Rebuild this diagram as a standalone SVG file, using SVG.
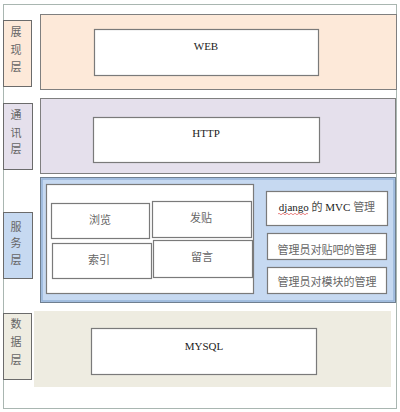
<svg xmlns="http://www.w3.org/2000/svg" width="400" height="412" viewBox="0 0 400 412">
<style>
.frame{fill:#fff;stroke:#a9b6b1;stroke-width:1}
.lbl{stroke:#6b6b6b;stroke-width:1}
.box{fill:#fff;stroke:#7a7a7a;stroke-width:1.2}
.cjk{font-family:"Liberation Serif","Noto Sans CJK SC",serif;font-size:11px;fill:#666;text-anchor:middle;dominant-baseline:central}
.lat{font-family:"Liberation Serif","Noto Sans CJK SC",serif;font-size:11px;fill:#222;text-anchor:middle;dominant-baseline:central}
.side{font-family:"Liberation Serif","Noto Sans CJK SC",serif;font-size:11px;fill:#666;text-anchor:middle;dominant-baseline:central}
</style>
<rect class="frame" x="3.5" y="4.5" width="393" height="404"/>
<g id="layer-presentation">
<rect x="40.5" y="14.5" width="356" height="75" fill="#fde9d9" stroke="#7f7f7f"/>
<rect class="lbl" x="3.5" y="20.5" width="28" height="66" fill="#fde9d9"/>
<text class="side" x="16" y="32">展</text><text class="side" x="16" y="50">现</text><text class="side" x="16" y="67">层</text>
</g>
<g id="node-web"><rect class="box" x="94.5" y="29.5" width="224" height="46"/><text class="lat" x="206" y="46">WEB</text></g>
<g id="layer-comm">
<rect x="40.5" y="98.5" width="355" height="75" fill="#e5e0ec" stroke="#7f7f7f"/>
<rect class="lbl" x="3.5" y="103.5" width="29" height="66" fill="#e5e0ec"/>
<text class="side" x="16" y="115">通</text><text class="side" x="16" y="133">讯</text><text class="side" x="16" y="149">层</text>
</g>
<g id="node-http"><rect class="box" x="93.5" y="117.5" width="226" height="45"/><text class="lat" x="206" y="133">HTTP</text></g>
<g id="layer-service">
<rect x="40.5" y="177.5" width="355" height="125" fill="#c6d9f1" stroke="#6f7f90"/>
<rect x="42" y="179" width="352" height="122" fill="none" stroke="#95b3d7" stroke-width="1.5"/>
<rect class="lbl" x="3.5" y="212.5" width="29" height="66" fill="#c6d9f1"/>
<text class="side" x="16" y="227">服</text><text class="side" x="16" y="243">务</text><text class="side" x="16" y="260">层</text>
<rect class="box" x="46.5" y="184.5" width="207" height="109"/>
</g>
<g id="node-browse"><rect class="box" x="51.5" y="203.5" width="98" height="35"/><text class="cjk" x="100" y="220">浏览</text></g>
<g id="node-post"><rect class="box" x="152.5" y="201.5" width="99" height="36"/><text class="cjk" x="201" y="218">发贴</text></g>
<g id="node-index"><rect class="box" x="52.5" y="243.5" width="99" height="35"/><text class="cjk" x="99" y="260">索引</text></g>
<g id="node-message"><rect class="box" x="153.5" y="240.5" width="99" height="37"/><text class="cjk" x="202" y="257">留言</text></g>
<g id="node-django"><rect class="box" x="266.5" y="191.5" width="121" height="34"/><text class="lat" x="327" y="207">django <tspan style="fill:#444">的</tspan> MVC <tspan style="fill:#666">管理</tspan></text>
<path d="M278 214 q1 -1.5 2 0 t2 0 t2 0 t2 0 t2 0 t2 0 t2 0 t2 0 t2 0 t2 0 t2 0 t2 0 t2 0 t2 0 t2 0" fill="none" stroke="#e05050" stroke-width="0.7"/></g>
<g id="node-admin-bar"><rect class="box" x="267.5" y="233.5" width="119" height="26"/><text class="cjk" x="327" y="250">管理员对贴吧的管理</text></g>
<g id="node-admin-module"><rect class="box" x="267.5" y="267.5" width="119" height="26"/><text class="cjk" x="327" y="282">管理员对模块的管理</text></g>
<g id="layer-data">
<rect x="34" y="311" width="357" height="76" fill="#eeece1"/>
<rect class="lbl" x="3.5" y="313.5" width="28" height="66" fill="#eeece1"/>
<text class="side" x="16" y="324">数</text><text class="side" x="16" y="342">据</text><text class="side" x="16" y="360">层</text>
</g>
<g id="node-mysql"><rect class="box" x="91.5" y="328.5" width="225" height="46"/><text class="lat" x="204" y="346">MYSQL</text></g>
<g id="connectors"/>
</svg>
